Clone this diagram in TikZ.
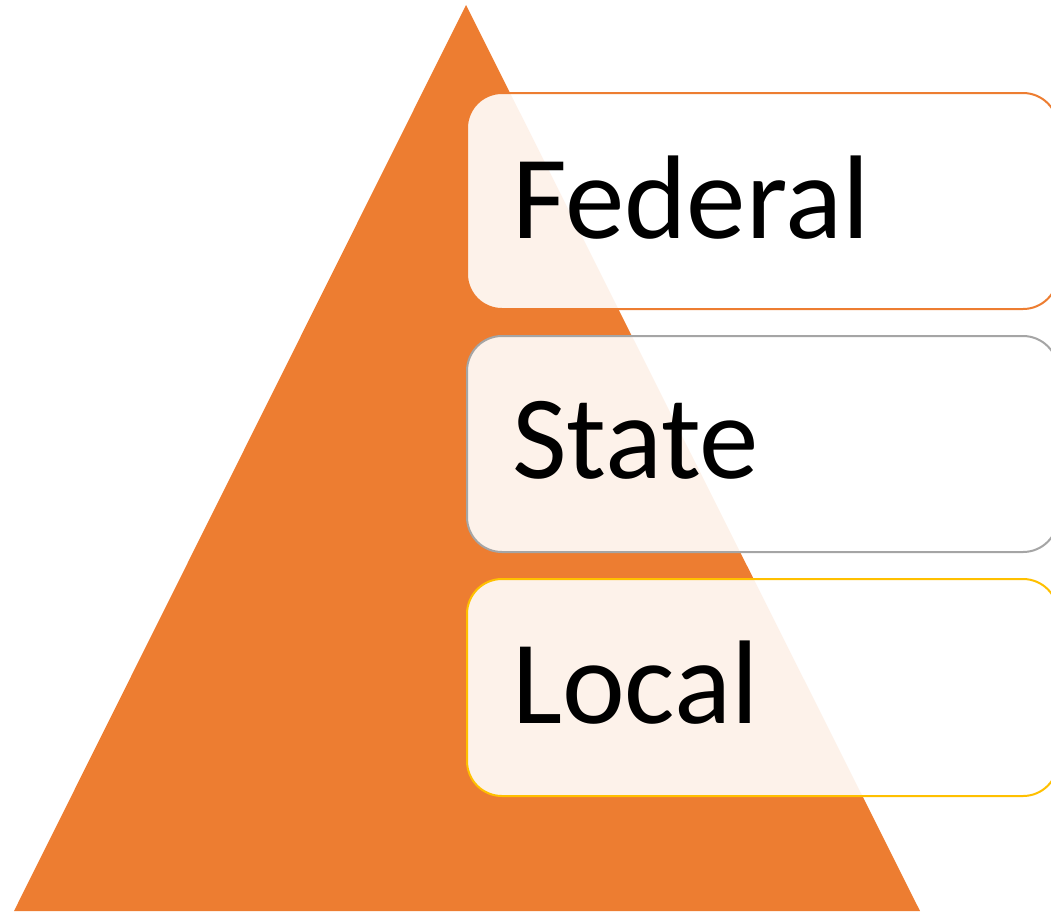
\documentclass[tikz,border=0pt]{standalone}
\usepackage{fontspec}
\setmainfont{Carlito}
\definecolor{porange}{HTML}{ED7D31}
\definecolor{pgray}{HTML}{A5A5A5}
\definecolor{pgold}{HTML}{FFC000}
\begin{document}
\begin{tikzpicture}[x=1pt,y=-1pt,
  tierbox/.style={line width=2pt, rounded corners=35pt, fill=white, fill opacity=0.9},
  tiertext/.style={anchor=base west, inner sep=0pt, font=\fontsize{119}{125}\selectfont, text=black}]
\useasboundingbox (0,0) rectangle (1051,911);
\clip (0,0) rectangle (1051,911);
\fill[porange] (466,5) -- (920,911) -- (14,911) -- cycle;
\draw[tierbox, draw=porange] (467,93) rectangle (1058,309);
\draw[tierbox, draw=pgray] (467,336) rectangle (1058,552);
\draw[tierbox, draw=pgold] (467,579) rectangle (1058,796);
\node[tiertext] (fed) at (512,238) {Federal};
\node[tiertext] (sta) at (512,478) {State};
\node[tiertext] (loc) at (512,723) {Local};
\end{tikzpicture}
\end{document}
